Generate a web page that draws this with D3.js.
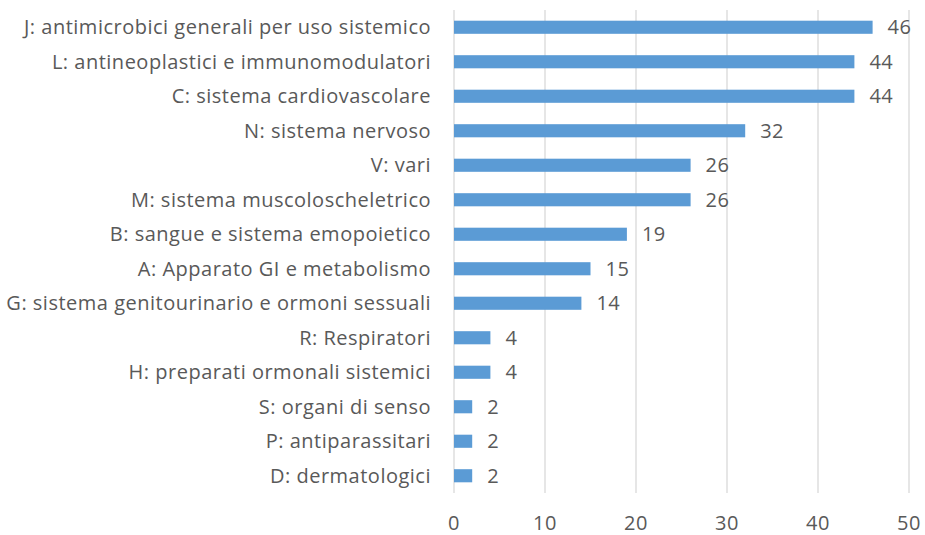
<!doctype html>
<html lang="it">
<head>
  <meta charset="utf-8" />
  <title>Classi ATC</title>
  <script src="https://cdn.jsdelivr.net/npm/d3@7"></script>
  <style>
    body { margin: 0; background: #fff; }
    text { font-family: "Open Sans", sans-serif; fill: #595959; letter-spacing: 0.5px; }
  </style>
</head>
<body>
  <div id="chart"></div>
  <script>
    const categories = [
      "J: antimicrobici generali per uso sistemico",
      "L: antineoplastici e immunomodulatori",
      "C: sistema cardiovascolare",
      "N: sistema nervoso",
      "V: vari",
      "M: sistema muscoloscheletrico",
      "B: sangue e sistema emopoietico",
      "A: Apparato GI e metabolismo",
      "G: sistema genitourinario e ormoni sessuali",
      "R: Respiratori",
      "H: preparati ormonali sistemici",
      "S: organi di senso",
      "P: antiparassitari",
      "D: dermatologici"
    ];
    const values = [46, 44, 44, 32, 26, 26, 19, 15, 14, 4, 4, 2, 2, 2];
    const xTicks = [0, 10, 20, 30, 40, 50];

    const w = 925, h = 535;
    const plotLeft = 454, plotRight = 909, plotTop = 10, plotBottom = 493;
    const fontSize = 20;

    const svg = d3.select("#chart").append("svg").attr("width", w).attr("height", h);

    const x = d3.scaleLinear().domain([0, 50]).range([plotLeft, plotRight]);
    const y = d3.scaleBand().domain(categories).range([plotTop, plotBottom]).paddingInner(0.62).paddingOuter(0.31);

    // gridlines
    svg.append("g")
      .selectAll("line")
      .data(xTicks)
      .enter()
      .append("line")
      .attr("x1", d => x(d)).attr("x2", d => x(d))
      .attr("y1", plotTop).attr("y2", plotBottom)
      .style("stroke", "#d9d9d9")
      .style("stroke-width", 1.3);

    // x tick labels
    svg.append("g")
      .selectAll("text")
      .data(xTicks)
      .enter()
      .append("text")
      .text(d => d)
      .attr("x", d => x(d))
      .attr("y", 530)
      .attr("text-anchor", "middle")
      .style("font-size", fontSize + "px");

    const rows = svg.append("g")
      .selectAll("g")
      .data(categories.map((c, i) => ({ cat: c, val: values[i] })))
      .enter()
      .append("g");

    rows.append("rect")
      .attr("x", x(0))
      .attr("y", d => y(d.cat))
      .attr("width", d => x(d.val) - x(0))
      .attr("height", y.bandwidth())
      .style("fill", "#5b9bd5");

    rows.append("text")
      .text(d => d.val)
      .attr("x", d => x(d.val) + 15)
      .attr("y", d => y(d.cat) + y.bandwidth() / 2)
      .attr("dy", "0.35em")
      .style("font-size", fontSize + "px");

    rows.append("text")
      .text(d => d.cat)
      .attr("x", 431)
      .attr("y", d => y(d.cat) + y.bandwidth() / 2)
      .attr("dy", "0.35em")
      .attr("text-anchor", "end")
      .style("font-size", fontSize + "px");
  </script>
</body>
</html>
